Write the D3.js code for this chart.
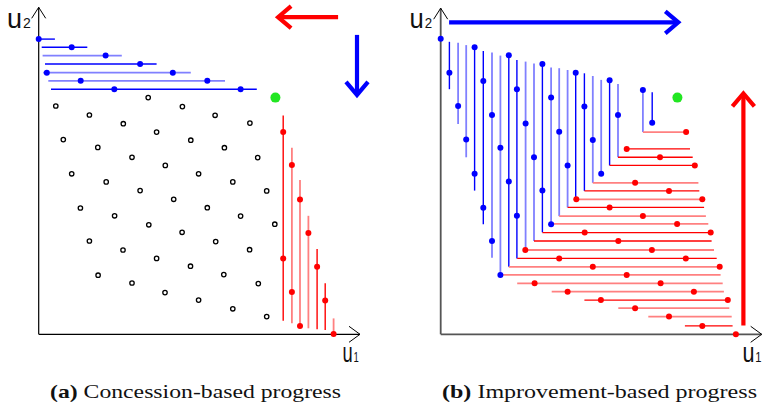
<!DOCTYPE html>
<html>
<head>
<meta charset="utf-8">
<script src="https://cdn.jsdelivr.net/npm/d3@7/dist/d3.min.js"></script>
<style>
  body { margin: 0; background: #fff; }
  svg { display: block; }
</style>
</head>
<body>
<script>
// ---- data (utilities in [0,1]) ----

// (a) concession: blue agent's iso-lines (u2 fixed), red agent's (u1 fixed)
var concBlue = [
  { u2: 0.984, from: 0.000, to: 0.054, bids: [0.000], strong: 1 },
  { u2: 0.957, from: 0.010, to: 0.162, bids: [0.110], strong: 1 },
  { u2: 0.929, from: 0.013, to: 0.277, bids: [0.223], strong: 0 },
  { u2: 0.901, from: 0.021, to: 0.393, bids: [0.338], strong: 1 },
  { u2: 0.872, from: 0.015, to: 0.507, bids: [0.027, 0.447], strong: 0 },
  { u2: 0.845, from: 0.032, to: 0.621, bids: [0.140, 0.562], strong: 0 },
  { u2: 0.817, from: 0.041, to: 0.727, bids: [0.252, 0.673], strong: 1 }
];
var concRed = [
  { u1: 0.815, from: 0.045, to: 0.729, bids: [0.674, 0.253], strong: 1 },
  { u1: 0.844, from: 0.037, to: 0.622, bids: [0.564, 0.141], strong: 0 },
  { u1: 0.871, from: 0.020, to: 0.514, bids: [0.449, 0.028], strong: 0 },
  { u1: 0.899, from: 0.020, to: 0.395, bids: [0.338], strong: 0 },
  { u1: 0.928, from: 0.017, to: 0.284, bids: [0.225], strong: 1 },
  { u1: 0.955, from: 0.014, to: 0.170, bids: [0.113], strong: 1 },
  { u1: 0.983, from: 0.000, to: 0.053, bids: [0.001], strong: 0 }
];
// (a) outcomes not offered (open circles)
var outcomes = [
  [0.057, 0.761], [0.169, 0.731], [0.282, 0.702], [0.365, 0.789], [0.393, 0.674],
  [0.479, 0.759], [0.507, 0.647], [0.082, 0.649], [0.197, 0.623], [0.588, 0.730],
  [0.704, 0.704], [0.619, 0.622], [0.311, 0.590], [0.422, 0.563], [0.110, 0.535],
  [0.533, 0.535], [0.225, 0.508], [0.338, 0.479], [0.450, 0.450], [0.139, 0.421],
  [0.253, 0.395], [0.367, 0.365], [0.478, 0.340], [0.169, 0.311], [0.281, 0.281],
  [0.393, 0.253], [0.506, 0.227], [0.198, 0.197], [0.311, 0.171], [0.421, 0.139],
  [0.533, 0.114], [0.730, 0.589], [0.647, 0.508], [0.760, 0.478], [0.562, 0.422],
  [0.673, 0.394], [0.787, 0.367], [0.590, 0.309], [0.703, 0.282], [0.617, 0.199],
  [0.732, 0.169], [0.647, 0.085], [0.760, 0.059]
];

// (b) improvement: blue agent's iso-lines (u1 fixed), red agent's (u2 fixed)
var imprBlue = [
  { u1: 0.029, from: 0.817, to: 0.975, bids: [0.872], strong: 1 },
  { u1: 0.058, from: 0.701, to: 0.972, bids: [0.761], strong: 0 },
  { u1: 0.085, from: 0.590, to: 0.964, bids: [0.649], strong: 0 },
  { u1: 0.113, from: 0.479, to: 0.959, bids: [0.957, 0.535], strong: 1 },
  { u1: 0.142, from: 0.367, to: 0.944, bids: [0.844, 0.422], strong: 1 },
  { u1: 0.171, from: 0.255, to: 0.939, bids: [0.731, 0.311], strong: 0 },
  { u1: 0.199, from: 0.198, to: 0.929, bids: [0.622, 0.198], strong: 0 },
  { u1: 0.227, from: 0.225, to: 0.930, bids: [0.930, 0.509], strong: 1 },
  { u1: 0.254, from: 0.253, to: 0.914, bids: [0.817, 0.395], strong: 1 },
  { u1: 0.283, from: 0.281, to: 0.909, bids: [0.703], strong: 0 },
  { u1: 0.311, from: 0.311, to: 0.903, bids: [0.590], strong: 0 },
  { u1: 0.339, from: 0.340, to: 0.901, bids: [0.901, 0.479], strong: 1 },
  { u1: 0.368, from: 0.367, to: 0.889, bids: [0.789, 0.367], strong: 0 },
  { u1: 0.395, from: 0.394, to: 0.887, bids: [0.675], strong: 0 },
  { u1: 0.423, from: 0.423, to: 0.881, bids: [0.563], strong: 0 },
  { u1: 0.450, from: 0.450, to: 0.872, bids: [0.872], strong: 1 },
  { u1: 0.479, from: 0.478, to: 0.870, bids: [0.759], strong: 1 },
  { u1: 0.507, from: 0.505, to: 0.861, bids: [0.648], strong: 0 },
  { u1: 0.535, from: 0.534, to: 0.848, bids: [0.535], strong: 0 },
  { u1: 0.563, from: 0.563, to: 0.847, bids: [0.847], strong: 1 },
  { u1: 0.591, from: 0.590, to: 0.834, bids: [0.731], strong: 0 },
  { u1: 0.674, from: 0.674, to: 0.814, bids: [0.814], strong: 0 },
  { u1: 0.705, from: 0.705, to: 0.807, bids: [0.705], strong: 1 }
];
var imprRed = [
  { u2: 0.674, from: 0.674, to: 0.818, bids: [0.818], strong: 0 },
  { u2: 0.618, from: 0.620, to: 0.831, bids: [0.620], strong: 1 },
  { u2: 0.590, from: 0.591, to: 0.840, bids: [0.731], strong: 1 },
  { u2: 0.563, from: 0.563, to: 0.847, bids: [0.847], strong: 1 },
  { u2: 0.505, from: 0.507, to: 0.859, bids: [0.648], strong: 0 },
  { u2: 0.478, from: 0.479, to: 0.862, bids: [0.761], strong: 1 },
  { u2: 0.450, from: 0.450, to: 0.873, bids: [0.452, 0.872], strong: 0 },
  { u2: 0.423, from: 0.423, to: 0.878, bids: [0.563], strong: 1 },
  { u2: 0.394, from: 0.395, to: 0.884, bids: [0.674], strong: 0 },
  { u2: 0.368, from: 0.368, to: 0.892, bids: [0.788], strong: 0 },
  { u2: 0.339, from: 0.339, to: 0.900, bids: [0.480, 0.900], strong: 1 },
  { u2: 0.311, from: 0.311, to: 0.903, bids: [0.592], strong: 1 },
  { u2: 0.281, from: 0.283, to: 0.911, bids: [0.282, 0.704], strong: 0 },
  { u2: 0.253, from: 0.255, to: 0.920, bids: [0.395, 0.817], strong: 1 },
  { u2: 0.225, from: 0.227, to: 0.931, bids: [0.507, 0.930], strong: 0 },
  { u2: 0.198, from: 0.199, to: 0.933, bids: [0.620], strong: 0 },
  { u2: 0.170, from: 0.255, to: 0.940, bids: [0.313, 0.733], strong: 0 },
  { u2: 0.142, from: 0.370, to: 0.944, bids: [0.423, 0.844], strong: 0 },
  { u2: 0.114, from: 0.479, to: 0.957, bids: [0.534, 0.957], strong: 1 },
  { u2: 0.087, from: 0.592, to: 0.962, bids: [0.648], strong: 0 },
  { u2: 0.059, from: 0.692, to: 0.970, bids: [0.761], strong: 0 },
  { u2: 0.028, from: 0.814, to: 0.973, bids: [0.872], strong: 1 }
];
var imprFirstBlue = [0.000, 0.985];
var imprFirstRed = [0.984, 0.000];

var agreement = [0.789, 0.789];

// direction arrows [u1, u2] start and end
var concArrows = [
  { from: [0.998, 1.057], to: [0.798, 1.057], agent: "red" },
  { from: [1.061, 0.998], to: [1.061, 0.798], agent: "blue" }
];
var imprArrows = [
  { from: [0.028, 1.040], to: [0.792, 1.040], agent: "blue" },
  { from: [1.009, 0.029], to: [1.009, 0.803], agent: "red" }
];

var captions = [
  { tag: "(a)", text: " Concession-based progress" },
  { tag: "(b)", text: " Improvement-based progress" }
];

// ---- drawing ----
var col = {
  blue: "#0000ff", blueLight: "#8080ff",
  red: "#ff0000", redLight: "#ff8080",
  green: "#22e622"
};

var svg = d3.select("body").append("svg")
  .attr("width", 764)
  .attr("height", 411);

function makePanel(ox, oy) {
  var x = d3.scaleLinear().domain([0, 1]).range([ox, ox + 300]);
  var y = d3.scaleLinear().domain([0, 1]).range([oy, oy - 300]);
  return { g: svg.append("g"), x: x, y: y };
}

function drawAxes(p, xMax, yMax, stroke, sw) {
  var g = p.g.append("g").attr("fill", "none").attr("stroke", stroke).attr("stroke-width", sw);
  var x0 = p.x(0), y0 = p.y(0), xt = p.x(xMax), yt = p.y(yMax);
  g.append("path").attr("d", "M" + x0 + "," + y0 + "H" + xt + "M" + x0 + "," + y0 + "V" + yt);
  g.append("path").attr("stroke-width", 1).attr("stroke", "#000")
    .attr("d", "M" + (xt - 11) + "," + (y0 - 8) + "L" + xt + "," + y0 + "L" + (xt - 11) + "," + (y0 + 8));
  g.append("path").attr("stroke-width", 1).attr("stroke", "#000")
    .attr("d", "M" + (x0 - 7) + "," + (yt + 11) + "L" + x0 + "," + yt + "L" + (x0 + 7) + "," + (yt + 11));
}

function label(p, xPix, yPix, main, sub, sx) {
  var t = p.g.append("text")
    .attr("transform", "translate(" + xPix + "," + yPix + ") scale(" + sx + ",1)")
    .attr("font-family", "Liberation Sans, Arial, sans-serif")
    .attr("fill", "#111");
  t.append("tspan").attr("font-size", 27).text(main);
  t.append("tspan").attr("font-size", 14).attr("dx", 1).text(sub);
}

function arrow(p, a) {
  var x1 = p.x(a.from[0]), y1 = p.y(a.from[1]), x2 = p.x(a.to[0]), y2 = p.y(a.to[1]);
  var len = Math.hypot(x2 - x1, y2 - y1), dx = (x2 - x1) / len, dy = (y2 - y1) / len;
  var bx = x2 - 13 * dx, by = y2 - 13 * dy;
  var c = col[a.agent];
  p.g.append("line").attr("x1", x1).attr("y1", y1).attr("x2", x2 - 2 * dx).attr("y2", y2 - 2 * dy)
    .attr("stroke", c).attr("stroke-width", 4.2);
  p.g.append("path")
    .attr("d", "M" + (bx - 11 * dy) + "," + (by + 11 * dx) + "L" + x2 + "," + y2 + "L" + (bx + 11 * dy) + "," + (by - 11 * dx))
    .attr("fill", "none").attr("stroke", c).attr("stroke-width", 4.2).attr("stroke-linejoin", "miter");
}

function isoLines(p, data, horizontal, agent) {
  var g = p.g.append("g");
  g.selectAll("line").data(data).enter().append("line")
    .attr("x1", function(d) { return horizontal ? p.x(d.from) : p.x(d.u1); })
    .attr("x2", function(d) { return horizontal ? p.x(d.to) : p.x(d.u1); })
    .attr("y1", function(d) { return horizontal ? p.y(d.u2) : p.y(d.from); })
    .attr("y2", function(d) { return horizontal ? p.y(d.u2) : p.y(d.to); })
    .attr("stroke", function(d) { return d.strong ? col[agent] : col[agent + "Light"]; })
    .attr("stroke-width", function(d) { return d.strong ? 1.4 : 1.8; });
}

function bidDots(p, data, horizontal, agent) {
  var pts = [];
  data.forEach(function(d) {
    d.bids.forEach(function(b) {
      pts.push(horizontal ? [b, d.u2] : [d.u1, b]);
    });
  });
  p.g.append("g").selectAll("circle").data(pts).enter().append("circle")
    .attr("cx", function(d) { return p.x(d[0]); })
    .attr("cy", function(d) { return p.y(d[1]); })
    .attr("r", 3)
    .attr("fill", col[agent]);
}

function dot(p, pt, agent, r) {
  p.g.append("circle").attr("cx", p.x(pt[0])).attr("cy", p.y(pt[1])).attr("r", r).attr("fill", col[agent]);
}

// panel (a)
var pa = makePanel(38.7, 334.3);
drawAxes(pa, 1.071, 1.09, "#000", 1.2);
pa.g.append("g").selectAll("circle").data(outcomes).enter().append("circle")
  .attr("cx", function(d) { return pa.x(d[0]); })
  .attr("cy", function(d) { return pa.y(d[1]); })
  .attr("r", 2.2)
  .attr("fill", "#fff")
  .attr("stroke", "#000")
  .attr("stroke-width", 1.3);
isoLines(pa, concBlue, true, "blue");
isoLines(pa, concRed, false, "red");
bidDots(pa, concBlue, true, "blue");
bidDots(pa, concRed, false, "red");
dot(pa, agreement, "green", 5);
concArrows.forEach(function(a) { arrow(pa, a); });
label(pa, 7, 28.3, "u", "2", 1);
label(pa, 342.5, 361.7, "u", "1", 0.68);

// panel (b)
var pb = makePanel(440.7, 334.3);
drawAxes(pb, 1.07, 1.087, "#555", 1.8);
isoLines(pb, imprBlue, false, "blue");
isoLines(pb, imprRed, true, "red");
bidDots(pb, imprRed, true, "red");
bidDots(pb, imprBlue, false, "blue");
dot(pb, imprFirstBlue, "blue", 3);
dot(pb, imprFirstRed, "red", 3);
dot(pb, agreement, "green", 5);
imprArrows.forEach(function(a) { arrow(pb, a); });
label(pb, 409.5, 28.3, "u", "2", 0.95);
label(pb, 742.5, 361.7, "u", "1", 0.8);

// captions
var capX = [50, 442], capW = [291, 315];
svg.selectAll(".cap").data(captions).enter().append("text")
  .attr("class", "cap")
  .attr("x", function(d, i) { return capX[i]; })
  .attr("y", 398)
  .attr("font-family", "Liberation Serif, Times New Roman, serif")
  .attr("font-size", 19.5)
  .attr("fill", "#111")
  .attr("textLength", function(d, i) { return capW[i]; })
  .attr("lengthAdjust", "spacingAndGlyphs")
  .each(function(d) {
    var t = d3.select(this);
    t.append("tspan").attr("font-weight", "bold").text(d.tag);
    t.append("tspan").text(d.text);
  });
</script>
</body>
</html>
